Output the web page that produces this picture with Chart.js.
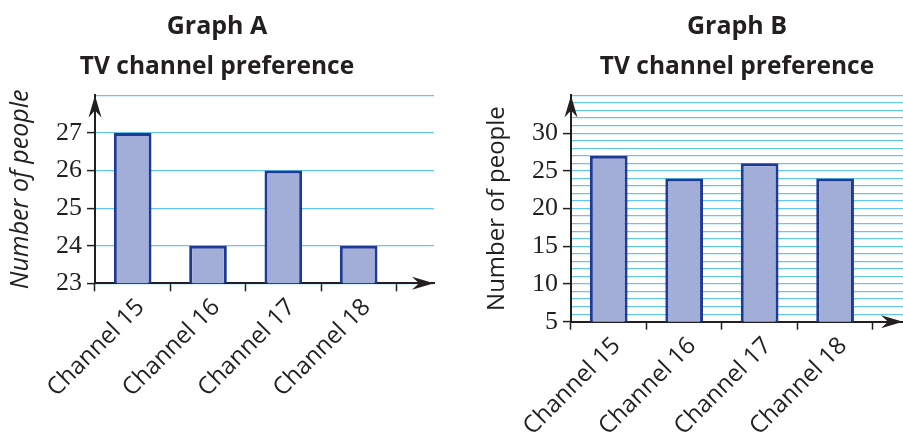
<!DOCTYPE html>
<html><head><meta charset="utf-8">
<script src="https://cdn.jsdelivr.net/npm/chart.js@4"></script>
<style>
html,body{margin:0;padding:0;background:#fff;width:903px;height:438px;overflow:hidden;}
#wa{position:absolute;left:0;top:0;width:442px;height:438px;}
#wb{position:absolute;left:450px;top:0;width:453px;height:438px;}
</style></head><body>
<div id="wa"><canvas id="ca"></canvas></div>
<div id="wb"><canvas id="cb"></canvas></div>
<script>
// ---- data ----
const categories = ['Channel 15', 'Channel 16', 'Channel 17', 'Channel 18'];
const valuesA = [27, 24, 26, 24];
const valuesB = [27, 24, 26, 24];
const yLabelsA = [23, 24, 25, 26, 27];
const yLabelsB = [5, 10, 15, 20, 25, 30];
const yMinA = 23, yMaxA = 28;
const yMinB = 5, yMaxB = 35;
const titleA = 'Graph A', titleB = 'Graph B';
const subTitle = 'TV channel preference';
const yTitle = 'Number of people';

// ---- style ----
const DARK = '#231f20';
const GRID = 'rgb(100,198,240)';
const FILL = '#a2aed8';
const EDGE = '#1f3a92';
const SERIF = "'Liberation Serif', 'DejaVu Serif', serif";

function drawArrow(ctx, x, y, dx, dy) {
  const L = 22, W = 6.5, N = 15;
  const px = -dy, py = dx;
  ctx.beginPath();
  ctx.moveTo(x, y);
  ctx.lineTo(x - dx * L + px * W, y - dy * L + py * W);
  ctx.lineTo(x - dx * N, y - dy * N);
  ctx.lineTo(x - dx * L - px * W, y - dy * L - py * W);
  ctx.closePath();
  ctx.fill();
}
const arrows = {
  id: 'arrows',
  afterDraw(chart) {
    const { ctx, chartArea: a } = chart;
    ctx.save();
    ctx.fillStyle = DARK;
    drawArrow(ctx, a.left, a.top, 0, -1);
    drawArrow(ctx, a.right, a.bottom, 1, 0);
    ctx.restore();
  }
};

function makeChart(id, cfg) {
  return new Chart(document.getElementById(id), {
    type: 'bar',
    data: {
      datasets: [{
        data: cfg.values.map((v, i) => ({ x: i + 0.5, y: v })),
        backgroundColor: FILL,
        borderColor: EDGE,
        borderWidth: 3,
        borderSkipped: false,
        categoryPercentage: 0.5,
        barPercentage: 1.0
      }]
    },
    options: {
      responsive: true,
      maintainAspectRatio: false,
      animation: false,
      layout: { padding: { left: 0, right: cfg.padRight, top: 0, bottom: 0 } },
      plugins: {
        legend: { display: false },
        tooltip: { enabled: false },
        title: {
          display: true, text: cfg.title, color: DARK, fullSize: cfg.fullSize,
          font: { family: 'Open Sans', weight: 'bold', size: 25 },
          padding: { top: 12, bottom: 0 }
        },
        subtitle: {
          display: true, text: subTitle, color: DARK, fullSize: cfg.fullSize,
          font: { family: 'Open Sans', weight: 'bold', size: 24.5 },
          padding: { top: 10, bottom: 14 }
        }
      },
      scales: {
        x: {
          type: 'linear',
          offset: false,
          min: 0,
          max: cfg.xMax,
          afterBuildTicks: (s) => { s.ticks = categories.map((c, i) => ({ value: i + 0.5 })); },
          afterFit: (s) => { s.height = cfg.xHeight; },
          ticks: {
            callback: (v, i) => categories[i],
            autoSkip: false, minRotation: 45, maxRotation: 45,
            labelOffset: 8, padding: 2,
            color: DARK,
            font: { family: 'Open Sans', size: 24 }
          },
          grid: { offset: true, drawOnChartArea: false, drawTicks: true, tickLength: 8, tickColor: DARK, tickWidth: 1.5 },
          border: { color: DARK, width: 2 }
        },
        y: {
          type: 'linear',
          min: cfg.yMin, max: cfg.yMax,
          afterFit: (s) => { s.width = cfg.yWidth; },
          ticks: {
            stepSize: 1, autoSkip: false,
            callback: (v) => cfg.yLabels.includes(v) ? String(v) : '',
            color: DARK, padding: 5,
            font: { family: SERIF, size: 26 }
          },
          grid: {
            color: GRID, lineWidth: 1.2, tickLength: 8, tickWidth: 1.5,
            tickColor: (ctx) => (ctx.tick && cfg.yLabels.includes(ctx.tick.value)) ? DARK : 'rgba(0,0,0,0)'
          },
          border: { color: DARK, width: 2 },
          title: {
            display: true, text: yTitle, color: DARK,
            font: { family: 'Open Sans', size: cfg.titleSize, style: cfg.italic ? 'italic' : 'normal' },
            padding: { top: cfg.titlePad, bottom: 0 }
          }
        }
      }
    },
    plugins: [arrows]
  });
}

makeChart('ca', {
  values: valuesA, title: titleA, fullSize: true, padRight: 8, xMax: 4.5,
  xHeight: 154.7, yWidth: 95, yMin: yMinA, yMax: yMaxA, yLabels: yLabelsA,
  italic: true, titlePad: 6, titleSize: 25
});
makeChart('cb', {
  values: valuesB, title: titleB, fullSize: false, padRight: 0, xMax: 4.4,
  xHeight: 116.3, yWidth: 121, yMin: yMinB, yMax: yMaxB, yLabels: yLabelsB,
  italic: false, titlePad: 33, titleSize: 24
});
</script>
</body></html>
